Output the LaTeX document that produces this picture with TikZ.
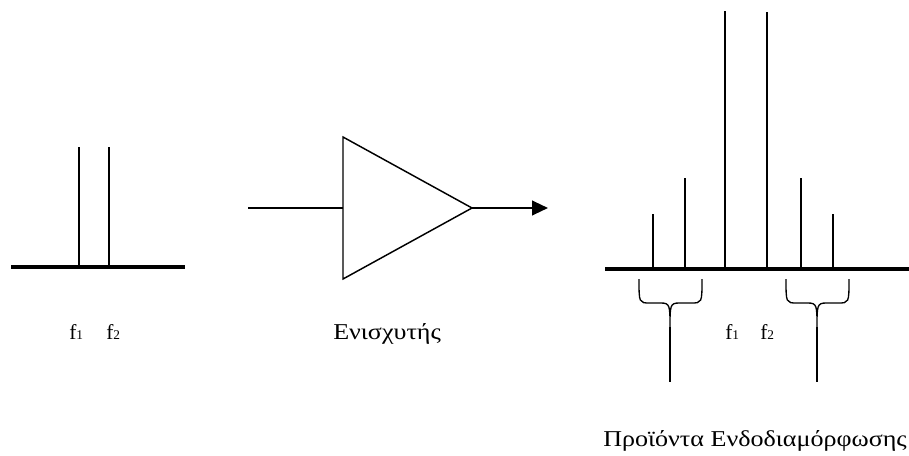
\documentclass[tikz,border=0pt]{standalone}
\usepackage{fontspec}
\setmainfont{Liberation Serif}
\newfontfamily\widefont{Liberation Serif}[FakeStretch=1.15]
\usepackage{tikz}
\usetikzlibrary{arrows.meta}
\newcommand{\freqlabel}[1]{f{\fontsize{10}{10}\selectfont #1}}
\tikzset{
  labelnode/.style={inner sep=0pt,anchor=base west,font=\fontsize{16}{16}\selectfont},
  captionnode/.style={inner sep=0pt,anchor=base west,font=\widefont\fontsize{17}{17}\selectfont},
  axisedge/.style={line width=3pt},
  toneedge/.style={line width=1.5pt},
  ampedge/.style={line width=1.1pt,line join=miter},
  inputedge/.style={line width=0.8pt},
  outputedge/.style={line width=1.6pt,-{Triangle[length=12pt,width=11pt]}},
  braceedge/.style={line width=1pt},
  stemedge/.style={line width=1.3pt}
}

\begin{document}
\begin{tikzpicture}[x=0.75pt,y=-0.75pt]
  \useasboundingbox (0,0) rectangle (909,456);

  % input spectrum
  \draw[axisedge] (11,267) -- (185,267);
  \draw[toneedge] (79,267) -- (79,147);
  \draw[toneedge] (109,267) -- (109,147);
  \node[labelnode] (inf1) at (69,339) {\freqlabel{1}};
  \node[labelnode] (inf2) at (106,339) {\freqlabel{2}};

  % amplifier
  \coordinate (in) at (248,208);
  \coordinate (ampin) at (343,208);
  \coordinate (ampout) at (472,208);
  \coordinate (out) at (548,208);
  \draw[ampedge] (343,137) -- (ampout) -- (343,279) -- cycle;
  \draw[inputedge] (in) -- (ampin);
  \draw[outputedge] (ampout) -- (out);
  \node[captionnode] (amp) at (333,339) {Ενισχυτής};

  % output spectrum
  \draw[axisedge] (605,269) -- (909,269);
  \draw[toneedge] (653,269) -- (653,214);
  \draw[toneedge] (685,269) -- (685,178);
  \draw[toneedge] (725,269) -- (725,11);
  \draw[toneedge] (767,269) -- (767,12);
  \draw[toneedge] (801,269) -- (801,178);
  \draw[toneedge] (833,269) -- (833,214);
  \node[labelnode] (outf1) at (725,339) {\freqlabel{1}};
  \node[labelnode] (outf2) at (760,339) {\freqlabel{2}};

  % braces
  \coordinate (lefttip) at (670,327);
  \coordinate (leftend) at (670,382);
  \coordinate (righttip) at (817,327);
  \coordinate (rightend) at (817,382);
  \draw[braceedge] (639,279) .. controls (639,303) and (639,303) .. (650,303)
    -- (661,303) .. controls (670,303) and (670,306) .. (lefttip)
    .. controls (670,306) and (670,303) .. (679,303)
    -- (691,303) .. controls (702,303) and (702,303) .. (702,279);
  \draw[braceedge] (786,279) .. controls (786,303) and (786,303) .. (797,303)
    -- (808,303) .. controls (817,303) and (817,306) .. (righttip)
    .. controls (817,306) and (817,303) .. (826,303)
    -- (838,303) .. controls (849,303) and (849,303) .. (849,279);
  \draw[stemedge] (lefttip) -- (leftend);
  \draw[stemedge] (righttip) -- (rightend);
  \node[captionnode] (products) at (603,446) {Προϊόντα Ενδοδιαμόρφωσης};
\end{tikzpicture}
\end{document}
